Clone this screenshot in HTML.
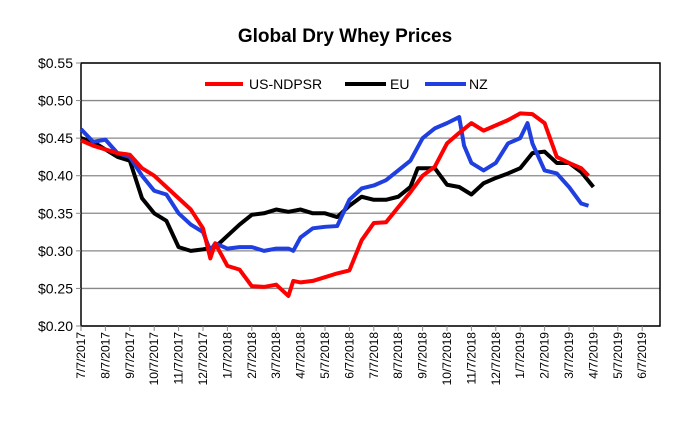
<!DOCTYPE html>
<html><head><meta charset="utf-8"><style>
body{margin:0;background:#fff;width:682px;height:430px;overflow:hidden;font-family:"Liberation Sans",Arial,sans-serif}
</style></head><body>
<svg id="chart" width="682" height="430" xmlns="http://www.w3.org/2000/svg" font-family="Liberation Sans, Arial, sans-serif">
<text x="345" y="42" text-anchor="middle" font-size="19" font-weight="bold">Global Dry Whey Prices</text>
<g id="grid"></g><g id="axes"></g><g id="series"></g>
<g>
<line x1="205" y1="84" x2="243" y2="84" stroke="#f00" stroke-width="4"/>
<text x="249" y="89" font-size="14">US-NDPSR</text>
<line x1="345" y1="84" x2="386" y2="84" stroke="#000" stroke-width="4"/>
<text x="390" y="89" font-size="14">EU</text>
<line x1="425" y1="84" x2="466" y2="84" stroke="#1f3fe0" stroke-width="4"/>
<text x="469" y="89" font-size="14">NZ</text>
</g>
</svg>
<script>
const yTicks=[0.20,0.25,0.30,0.35,0.40,0.45,0.50,0.55];
const xTickLabels=["7/7/2017","8/7/2017","9/7/2017","10/7/2017","11/7/2017","12/7/2017","1/7/2018","2/7/2018","3/7/2018","4/7/2018","5/7/2018","6/7/2018","7/7/2018","8/7/2018","9/7/2018","10/7/2018","11/7/2018","12/7/2018","1/7/2019","2/7/2019","3/7/2019","4/7/2019","5/7/2019","6/7/2019"];
const usMonths=[0,0.5,1,1.5,2,2.5,3,3.5,4,4.5,5,5.3,5.5,6,6.5,7,7.5,8,8.5,8.7,9,9.5,10,10.5,11,11.5,12,12.5,13,13.5,14,14.5,15,15.5,16,16.5,17,17.5,18,18.5,19,19.5,20,20.5,20.8];
const usValues=[0.447,0.44,0.435,0.43,0.428,0.41,0.40,0.385,0.37,0.355,0.33,0.29,0.31,0.28,0.275,0.253,0.252,0.255,0.24,0.26,0.258,0.26,0.265,0.27,0.274,0.314,0.337,0.338,0.358,0.378,0.40,0.412,0.443,0.457,0.47,0.46,0.467,0.474,0.483,0.482,0.47,0.425,0.417,0.41,0.40];
const euMonths=[0,0.5,1,1.5,2,2.5,3,3.5,4,4.5,5,5.5,6,6.5,7,7.5,8,8.5,9,9.5,10,10.5,11,11.5,12,12.5,13,13.5,13.8,14.5,15,15.5,16,16.5,17,17.5,18,18.5,19,19.5,20,20.5,21];
const euValues=[0.45,0.445,0.435,0.425,0.42,0.37,0.35,0.34,0.305,0.30,0.302,0.305,0.32,0.335,0.348,0.35,0.355,0.352,0.355,0.35,0.35,0.345,0.36,0.372,0.368,0.368,0.372,0.385,0.41,0.41,0.388,0.385,0.375,0.39,0.397,0.403,0.41,0.43,0.432,0.417,0.417,0.405,0.385];
const nzMonths=[0,0.5,1,1.5,2,2.5,3,3.5,4,4.5,5,5.3,5.5,6,6.5,7,7.5,8,8.5,8.7,9,9.5,10,10.5,11,11.5,12,12.5,13,13.5,14,14.5,15,15.5,15.7,16,16.5,17,17.5,18,18.3,18.5,19,19.5,20,20.5,20.8];
const nzValues=[0.462,0.445,0.448,0.43,0.425,0.40,0.38,0.375,0.35,0.335,0.325,0.30,0.31,0.303,0.305,0.305,0.30,0.303,0.303,0.30,0.318,0.33,0.332,0.333,0.368,0.383,0.387,0.394,0.407,0.42,0.45,0.463,0.47,0.478,0.44,0.417,0.407,0.417,0.443,0.45,0.47,0.443,0.407,0.403,0.385,0.363,0.36];

const NS="http://www.w3.org/2000/svg";
const L=81,R=660,T=63,B=326;
const xScale=m=>L+m*24.4;
const yScale=v=>B-(v-0.20)/0.35*(B-T);
const grid=document.getElementById('grid'),axes=document.getElementById('axes'),ser=document.getElementById('series');
function mk(tag,attrs,parent){const e=document.createElementNS(NS,tag);for(const k in attrs)e.setAttribute(k,attrs[k]);parent.appendChild(e);return e;}
const frame=mk('rect',{x:L,y:T,width:R-L,height:B-T,fill:'none',stroke:'#000','stroke-width':1.5},axes);


yTicks.forEach(v=>{
  const y=yScale(v);
  const g=mk('line',{x1:L,x2:R,y1:y,y2:y,stroke:'#888','stroke-width':1.3},grid);
  
  
  mk('line',{x1:L-5,x2:L,y1:y,y2:y,stroke:'#888'},axes);
  const t=mk('text',{x:73,y:y+5,'text-anchor':'end','font-size':14},axes);
  
  
  t.textContent='$'+v.toFixed(2);
});
xTickLabels.forEach((lab,i)=>{
  const x=xScale(i);
  mk('line',{x1:x,x2:x,y1:B,y2:B+5,stroke:'#888'},axes);
  const t=mk('text',{x:x+4,y:B+6,'text-anchor':'end','font-size':12,transform:`rotate(-90 ${x+4} ${B+6})`},axes);
  
  
  t.textContent=lab;
});
function line(ms,vs,color,name){
  const p=mk('polyline',{points:ms.map((m,i)=>xScale(m)+','+yScale(vs[i])).join(' '),fill:'none',stroke:color,'stroke-width':4,'stroke-linejoin':'round'},ser);
  
  
}
line(euMonths,euValues,'#000','eu-line');
line(nzMonths,nzValues,'#1f3fe0','nz-line');
line(usMonths,usValues,'#f00','us-ndpsr-line');
</script>
</body></html>
